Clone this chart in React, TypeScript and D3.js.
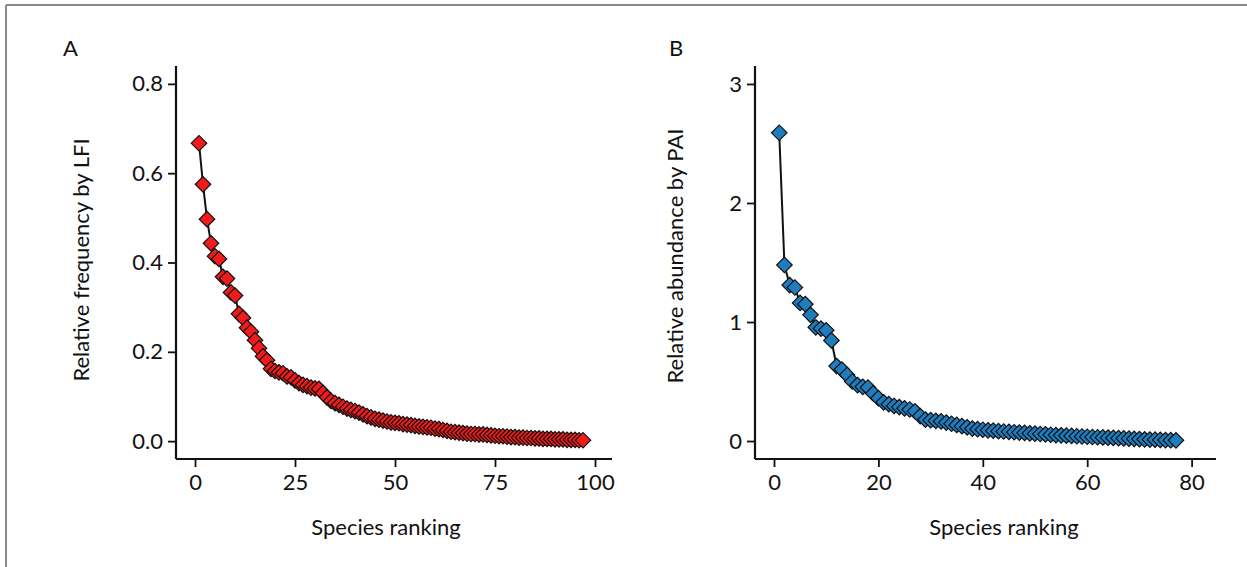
import React, { Component } from 'react';
import * as d3 from 'd3';

// Panel A: relative frequency by LFI, ranked species 1..97
const lfiValues = [
  0.667, 0.575, 0.497, 0.443, 0.414, 0.408, 0.368, 0.364, 0.333, 0.326,
  0.285, 0.276, 0.254, 0.245, 0.226, 0.208, 0.190, 0.181, 0.162, 0.157,
  0.154, 0.152, 0.145, 0.143, 0.136, 0.130, 0.126, 0.123, 0.120, 0.118,
  0.117, 0.108, 0.098, 0.090, 0.085, 0.081, 0.077, 0.073, 0.070, 0.067,
  0.064, 0.060, 0.056, 0.053, 0.050, 0.048, 0.046, 0.044, 0.042, 0.041,
  0.040, 0.038, 0.037, 0.036, 0.034, 0.033, 0.032, 0.031, 0.030, 0.028,
  0.027, 0.025, 0.023, 0.021, 0.020, 0.019, 0.018, 0.017, 0.016, 0.016,
  0.015, 0.015, 0.014, 0.013, 0.012, 0.011, 0.011, 0.010, 0.009, 0.009,
  0.008, 0.008, 0.007, 0.007, 0.006, 0.006, 0.005, 0.005, 0.005, 0.004,
  0.004, 0.004, 0.003, 0.003, 0.003, 0.002, 0.002
];

// Panel B: relative abundance by PAI, ranked species 1..77
const paiValues = [
  2.59, 1.48, 1.31, 1.29, 1.16, 1.15, 1.06, 0.955, 0.945, 0.93,
  0.845, 0.63, 0.60, 0.555, 0.50, 0.47, 0.455, 0.45, 0.40, 0.36,
  0.325, 0.31, 0.295, 0.285, 0.275, 0.265, 0.25, 0.21, 0.18, 0.175,
  0.17, 0.165, 0.155, 0.145, 0.135, 0.125, 0.115, 0.105, 0.10, 0.095,
  0.09, 0.087, 0.083, 0.08, 0.077, 0.074, 0.071, 0.068, 0.065, 0.062,
  0.059, 0.056, 0.053, 0.05, 0.048, 0.045, 0.043, 0.04, 0.038, 0.036,
  0.034, 0.032, 0.03, 0.028, 0.026, 0.024, 0.022, 0.02, 0.018, 0.016,
  0.014, 0.012, 0.011, 0.009, 0.008, 0.007, 0.006
];

const lfiXTicks = [0, 25, 50, 75, 100];
const lfiYTicks = [0, 0.2, 0.4, 0.6, 0.8];
const paiXTicks = [0, 20, 40, 60, 80];
const paiYTicks = [0, 1, 2, 3];

const FONT = 'Lato, "Open Sans", sans-serif';
const FS = 22;

class App extends Component {
  svgRef = React.createRef<SVGSVGElement>();

  componentDidMount() {
    const svg = d3.select(this.svgRef.current);

    // grey frame (top and left edges only)
    svg.append('line').attr('x1', 6).attr('x2', 1247).attr('y1', 5).attr('y2', 5)
      .attr('stroke', '#8a8a8a').attr('stroke-width', 2);
    svg.append('line').attr('x1', 6).attr('x2', 6).attr('y1', 5).attr('y2', 567)
      .attr('stroke', '#8a8a8a').attr('stroke-width', 2);

    function panel(opts) {
      const { values, xDomain, xRange, yDomain, xTicks, yTicks, yFmt, fill,
        letter, letterX, yTitle, yTitleX, yTitleY, xTitleX } = opts;
      const g = svg.append('g');
      const x = d3.scaleLinear().domain(xDomain).range(xRange);
      const y = d3.scaleLinear().domain(yDomain).range([459, 66]);

      // y axis
      const yAxis = g.append('g').attr('transform', `translate(${xRange[0]},0)`)
        .call(d3.axisLeft(y).tickValues(yTicks).tickSize(8).tickPadding(5).tickFormat(yFmt));
      yAxis.select('.domain').attr('d', `M0,${y.range()[0]}V${y.range()[1]}`);

      // x axis
      const xAxis = g.append('g').attr('transform', `translate(0,459)`)
        .call(d3.axisBottom(x).tickValues(xTicks).tickSize(8).tickPadding(7).tickFormat(d3.format('d')));
      xAxis.select('.domain').attr('d', `M${xRange[0]},0H${xRange[1]}`);

      g.selectAll('.domain').attr('stroke', '#111').attr('stroke-width', 2.2);
      g.selectAll('.tick line').attr('stroke', '#111').attr('stroke-width', 1.8);
      g.selectAll('.tick text').attr('font-family', FONT).attr('font-size', FS).attr('fill', '#111');

      const pts = values.map((v, i) => [x(i + 1), y(v)]);

      g.append('path')
        .attr('d', d3.line()(pts))
        .attr('fill', 'none')
        .attr('stroke', '#111')
        .attr('stroke-width', 2);

      g.selectAll('.pt')
        .data(pts)
        .enter()
        .append('path')
        .attr('class', 'pt')
        .attr('transform', d => `translate(${d[0]},${d[1]}) rotate(45)`)
        .attr('d', d3.symbol().type(d3.symbolSquare).size(120)())
        .attr('fill', fill)
        .attr('stroke', '#111')
        .attr('stroke-width', 1.2);

      g.append('text')
        .attr('x', letterX).attr('y', 56)
        .attr('font-family', FONT).attr('font-size', FS).attr('fill', '#111')
        .text(letter);

      g.append('text')
        .attr('x', xTitleX).attr('y', 535)
        .attr('text-anchor', 'middle')
        .attr('font-family', FONT).attr('font-size', FS).attr('fill', '#111')
        .text('Species ranking');

      g.append('text')
        .attr('transform', `translate(${yTitleX},${yTitleY}) rotate(-90)`)
        .attr('text-anchor', 'middle')
        .attr('font-family', FONT).attr('font-size', FS).attr('fill', '#111')
        .text(yTitle);
    }

    panel({
      values: lfiValues,
      xDomain: [-4.75, 104.25], xRange: [176, 612],
      yDomain: [-0.04, 0.84],
      xTicks: lfiXTicks, yTicks: lfiYTicks, yFmt: d3.format('.1f'),
      fill: '#f21b1b', letter: 'A', letterX: 63,
      yTitle: 'Relative frequency by LFI', yTitleX: 89, yTitleY: 260, xTitleX: 386
    });

    panel({
      values: paiValues,
      xDomain: [-3.64, 84.67], xRange: [755, 1216],
      yDomain: [-0.151, 3.151],
      xTicks: paiXTicks, yTicks: paiYTicks, yFmt: d3.format('d'),
      fill: '#1f7dbf', letter: 'B', letterX: 669,
      yTitle: 'Relative abundance by PAI', yTitleX: 683, yTitleY: 256, xTitleX: 1004
    });
  }

  render() {
    return (
      <svg ref={this.svgRef} width={1247} height={567}
        style={{ position: 'absolute', left: 0, top: 0, background: '#fff' }} />
    );
  }
}

export default App;
